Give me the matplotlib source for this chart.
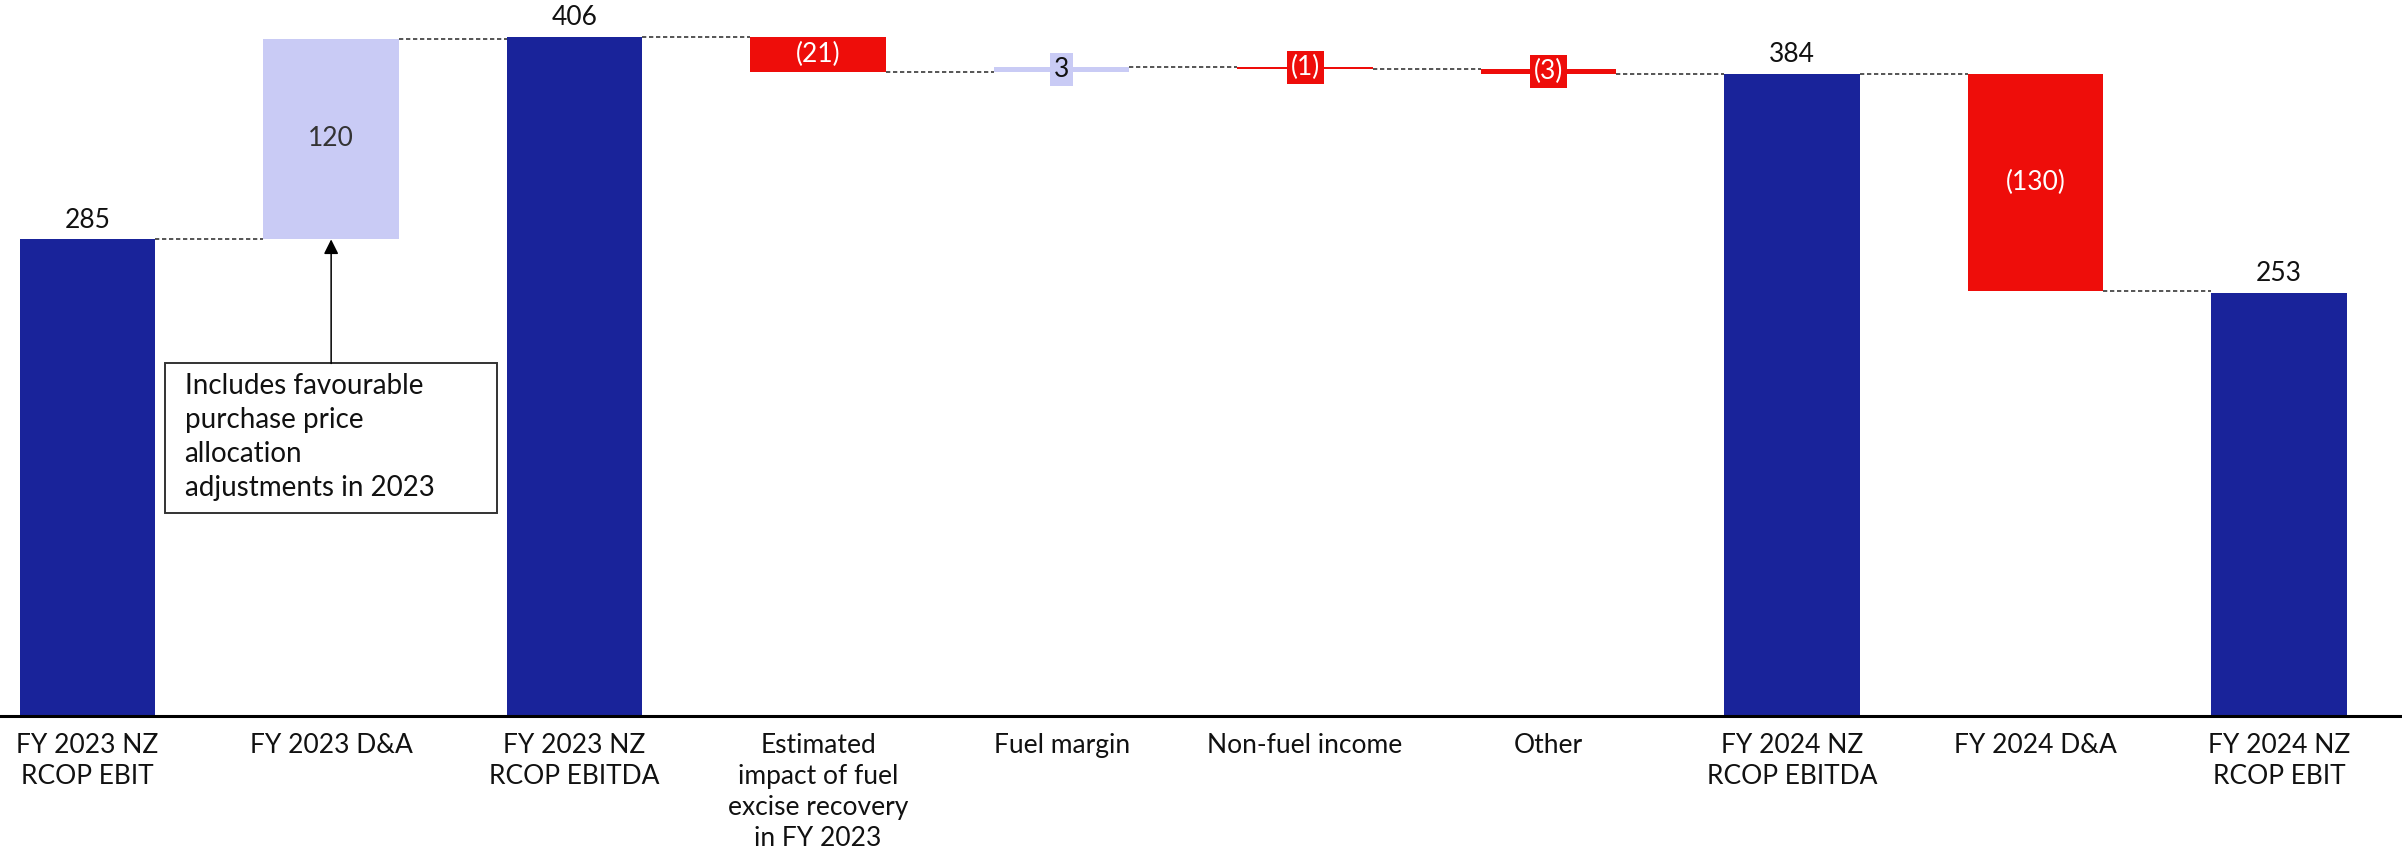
import matplotlib.pyplot as plt
from matplotlib.patches import Rectangle

plt.rcParams['font.family'] = ['Lato', 'DejaVu Sans']

# Waterfall data (NZ$m)
categories = ["FY 2023 NZ\nRCOP EBIT", "FY 2023 D&A", "FY 2023 NZ\nRCOP EBITDA",
              "Estimated\nimpact of fuel\nexcise recovery\nin FY 2023", "Fuel margin",
              "Non-fuel income", "Other", "FY 2024 NZ\nRCOP EBITDA", "FY 2024 D&A",
              "FY 2024 NZ\nRCOP EBIT"]
values = [285, 120, 406, -21, 3, -1, -3, 384, -130, 253]
is_total = [True, False, True, False, False, False, False, True, False, True]
labels = ["285", "120", "406", "(21)", "3", "(1)", "(3)", "384", "(130)", "253"]

note_text = "Includes favourable\npurchase price\nallocation\nadjustments in 2023"

DARK = "#19239A"
LIGHT = "#C9CBF5"
RED = "#EE0D0A"

fig = plt.figure(figsize=(24.02, 8.55), dpi=100)
ax = fig.add_axes([0.0, 0.162, 1.0, 0.838])

width = 0.556
running = 0
bottoms, heights, colors = [], [], []
for v, tot in zip(values, is_total):
    if tot:
        bottoms.append(0)
        heights.append(v)
        colors.append(DARK)
        running = v
    else:
        bottoms.append(min(running, running + v))
        heights.append(abs(v))
        colors.append(LIGHT if v > 0 else RED)
        running = running + v

x = list(range(len(values)))
ax.bar(x, heights, bottom=bottoms, width=width, color=colors, edgecolor='none', zorder=2)

# connectors between bars
level = 0
levels = []
for v, tot in zip(values, is_total):
    level = v if tot else level + v
    levels.append(level)
for i in range(len(values) - 1):
    ax.plot([i + width / 2, i + 1 - width / 2], [levels[i], levels[i]],
            ls=(0, (2.2, 1.4)), color="#555555", lw=1.4, zorder=1)

# value labels
for i, (v, tot) in enumerate(zip(values, is_total)):
    if tot:
        ax.text(i, v + 4, labels[i], ha='center', va='bottom', fontsize=19, color="#111111")
    else:
        yc = bottoms[i] + heights[i] / 2
        if abs(v) >= 10:
            tc = "#333333" if v > 0 else "white"
            ax.text(i, yc, labels[i], ha='center', va='center', fontsize=19, color=tc, zorder=3)
        else:
            tc = "#111111" if v > 0 else "white"
            ax.text(i, yc, labels[i], ha='center', va='center', fontsize=19, color=tc, zorder=3,
                    bbox=dict(boxstyle='square,pad=0.15', fc=colors[i], ec='none'))

# note box and arrow
ax.add_patch(Rectangle((0.316, 121.5), 1.364, 89.4, fill=False, ec="#333333", lw=1.4, zorder=3))
ax.text(0.398, 205, note_text, ha='left', va='top', fontsize=20, color="#111111",
        linespacing=1.38, zorder=3)
ax.annotate('', xy=(1.0, 285), xytext=(1.0, 210.9),
            arrowprops=dict(arrowstyle='-|>', color='black', lw=1.1, mutation_scale=22,
                            shrinkA=0, shrinkB=0))

ax.set_xlim(-0.36, 9.505)
ax.set_ylim(0, 428)
ax.set_xticks(x)
ax.set_xticklabels(categories, fontsize=19, color="#111111", linespacing=1.3)
ax.tick_params(axis='x', length=0, pad=12)
ax.set_yticks([])
for s in ['top', 'right', 'left']:
    ax.spines[s].set_visible(False)
ax.spines['bottom'].set_linewidth(2.2)
ax.spines['bottom'].set_color('black')

fig.savefig("out.png", dpi=100, facecolor='white')
